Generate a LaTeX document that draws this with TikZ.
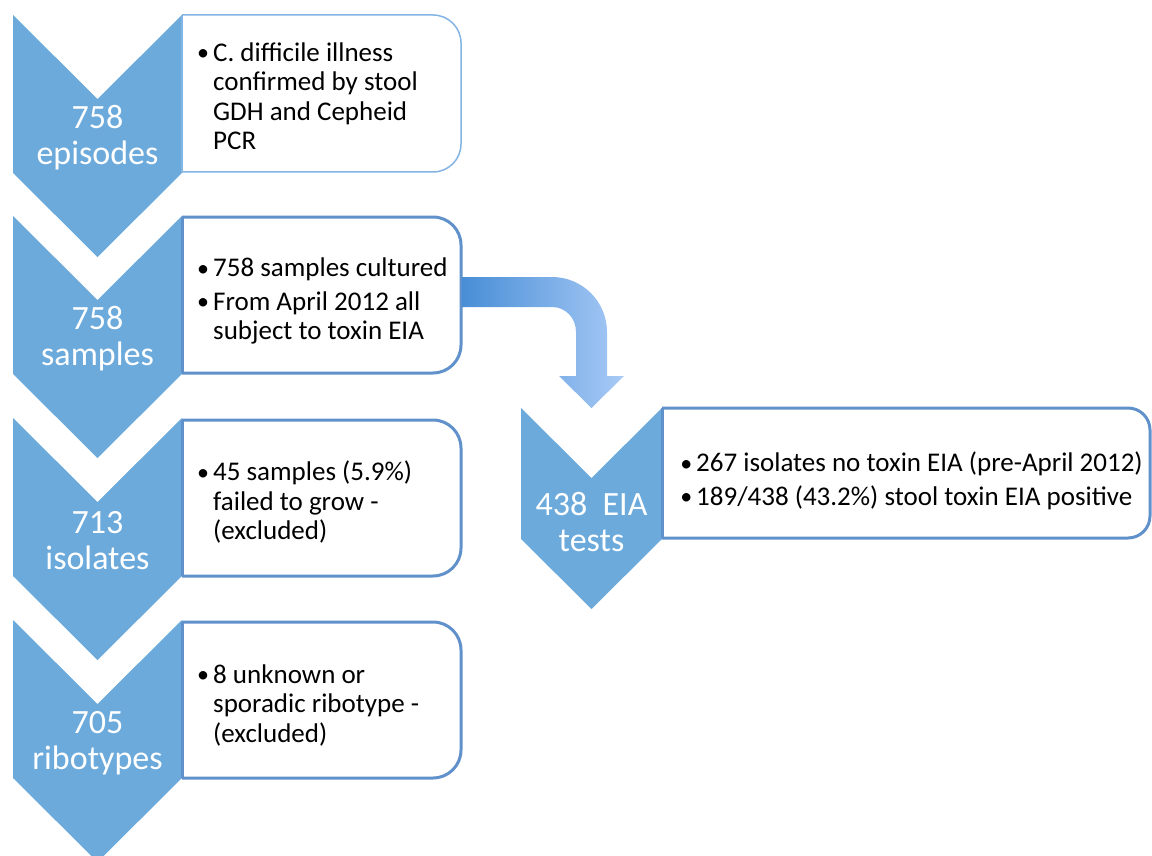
\documentclass[tikz,border=0pt]{standalone}
\usepackage{fontspec}
\setmainfont{Carlito}
\usetikzlibrary{calc}
\definecolor{chevblue}{RGB}{108,170,220}
\definecolor{boxblue}{RGB}{96,145,202}
\definecolor{boxlight}{RGB}{132,180,228}
\definecolor{arrowdark}{RGB}{72,142,214}
\definecolor{arrowlight}{RGB}{168,202,246}
\newcommand{\bul}{\llap{{\fontsize{24}{24}\selectfont\raisebox{0.5pt}{\textbullet}}\hspace{4pt}}}
\tikzset{
  chev/.style={fill=chevblue},
  chevtext/.style={text=white, font=\fontsize{34}{36}\selectfont, align=center, inner sep=0pt},
  boxline/.style={draw=boxblue, line width=3pt, fill=white},
  boxtext/.style={font=\fontsize{27}{29.5}\selectfont, align=left, inner sep=0pt, anchor=west},
}
\begin{document}
\begin{tikzpicture}[x=1pt,y=-1pt]
    \useasboundingbox (0,0) rectangle (1152,856);
    %CHEVRONS
    \fill[chev] (13,15) -- (97.5,99) -- (182,15) -- (182,173) -- (97.5,257) -- (13,173) -- cycle;
    \fill[chev] (13,216) -- (97.5,300) -- (182,216) -- (182,374) -- (97.5,458) -- (13,374) -- cycle;
    \fill[chev] (13,418) -- (97.5,502) -- (182,418) -- (182,576) -- (97.5,660) -- (13,576) -- cycle;
    \fill[chev] (13,620) -- (97.5,704) -- (182,620) -- (182,778) -- (97.5,862) -- (13,778) -- cycle;
    \fill[chev] (521,408) -- (591.5,478) -- (662,408) -- (662,539) -- (591.5,609) -- (521,539) -- cycle;
    %BOXES
    \begin{scope}
        \clip (182,0) rectangle (662,856);
        \draw[boxline, draw=boxlight, line width=1.5pt, rounded corners=28pt] (150,15) rectangle (461,172);
        \draw[boxline, rounded corners=28pt] (150,217) rectangle (461,373);
        \draw[boxline, rounded corners=28pt] (150,420) rectangle (461,576);
        \draw[boxline, rounded corners=28pt] (150,622) rectangle (461,778);
    \end{scope}
    \draw[boxlight, line width=1.5pt] (182,15) -- (182,172);
    \draw[boxblue, line width=3pt] (182,217) -- (182,373);
    \draw[boxblue, line width=3pt] (182,420) -- (182,576);
    \draw[boxblue, line width=3pt] (182,622) -- (182,778);
    \begin{scope}
        \clip (662,0) rectangle (1152,856);
        \draw[boxline, rounded corners=22pt] (630,408) rectangle (1150,538);
    \end{scope}
    \draw[boxblue, line width=3pt] (662,408) -- (662,538);
    %ARROW
    \coordinate (arrowstart) at (462,292);
    \shade[left color=arrowdark, right color=arrowlight]
        ($(arrowstart)+(0,-15)$) -- (552,277) .. controls (582.4,277) and (607,301.6) .. (607,332)
        -- (607,376) -- (624,376) -- (591.5,408) -- (559,376) -- (576,376) -- (576,332)
        .. controls (576,318.2) and (565.8,307) .. (552,307) -- ($(arrowstart)+(0,15)$) -- cycle;
    %CHEVRON LABELS
    \node[chevtext] (episodes) at (97.5,138) {758\\episodes};
    \node[chevtext] (samples) at (97.5,339) {758\\samples};
    \node[chevtext] (isolates) at (97.5,541) {713\\isolates};
    \node[chevtext] (ribotypes) at (97.5,743) {705\\ribotypes};
    \node[chevtext] (eiatests) at (591.5,522) {438\ \ EIA\\tests};
    %BOX TEXTS
    \node[boxtext] (episodesinfo) at (213,96) {\bul C. difficile illness\\confirmed by stool\\GDH and Cepheid\\PCR};
    \node[boxtext] (samplesinfo) at (213,301) {\bul 758 samples cultured\\[4pt]\bul From April 2012 all\\subject to toxin EIA};
    \node[boxtext] (isolatesinfo) at (213,502) {\bul 45 samples (5.9\%)\\failed to grow -\\(excluded)};
    \node[boxtext] (ribotypesinfo) at (213,705) {\bul 8 unknown or\\sporadic ribotype -\\(excluded)};
    \node[boxtext] (eiainfo) at (696,481) {\bul 267 isolates no toxin EIA (pre-April 2012)\\[4pt]\bul 189/438 (43.2\%) stool toxin EIA positive};
\end{tikzpicture}
\end{document}
